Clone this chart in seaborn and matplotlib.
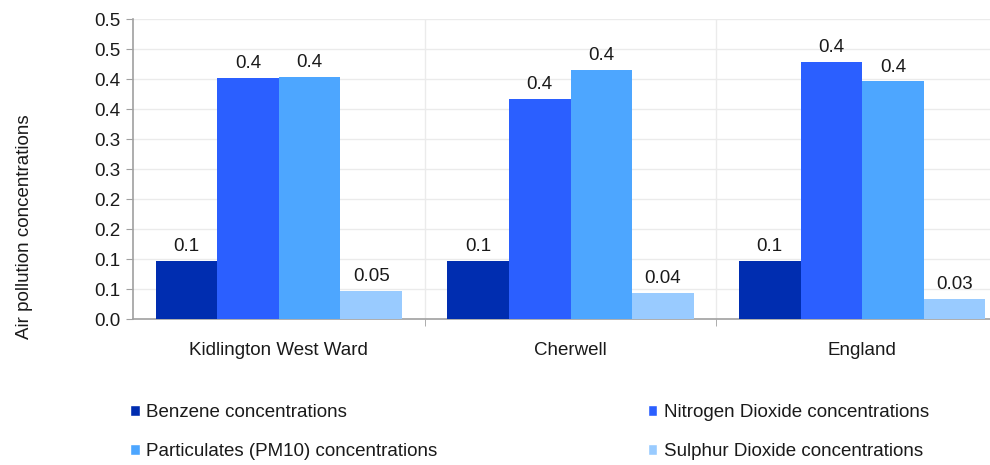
import matplotlib
matplotlib.use('Agg')

import matplotlib.pyplot as plt
import seaborn as sns
import pandas as pd
from matplotlib.patches import Patch

# data
areas = ['Kidlington West Ward', 'Cherwell', 'England']
pollutants = ['Benzene concentrations', 'Nitrogen Dioxide concentrations',
              'Particulates (PM10) concentrations', 'Sulphur Dioxide concentrations']
benzene = [0.097, 0.097, 0.097]
nitrogen_dioxide = [0.402, 0.367, 0.429]
pm10 = [0.404, 0.415, 0.396]
sulphur_dioxide = [0.047, 0.044, 0.034]
bar_labels = [['0.1', '0.1', '0.1'], ['0.4', '0.4', '0.4'],
              ['0.4', '0.4', '0.4'], ['0.05', '0.04', '0.03']]
y_ticks = [0.0, 0.05, 0.1, 0.15, 0.2, 0.25, 0.3, 0.35, 0.4, 0.45, 0.5]
y_tick_labels = ['0.0', '0.1', '0.1', '0.2', '0.2', '0.3', '0.3', '0.4', '0.4', '0.5', '0.5']
colors = ['#002db0', '#2b5fff', '#4da6ff', '#99cbff']

FS = 13.5
TXT = '#1a1a1a'


def main():
    sns.set_style('white')
    plt.rcParams['font.family'] = ['Liberation Sans', 'DejaVu Sans']

    series = [benzene, nitrogen_dioxide, pm10, sulphur_dioxide]
    rows = []
    for name, vals in zip(pollutants, series):
        for area, v in zip(areas, vals):
            rows.append({'area': area, 'pollutant': name, 'value': v})
    df = pd.DataFrame(rows)

    fig = plt.figure(figsize=(9.9, 4.65), dpi=100)
    ax = fig.add_axes([133 / 990, 146 / 465, 875 / 990, 300 / 465])

    sns.barplot(data=df, x='area', y='value', hue='pollutant', order=areas,
                hue_order=pollutants, palette=colors, width=0.845, saturation=1,
                errorbar=None, legend=False, ax=ax, zorder=3, linewidth=0)

    for cont, labs in zip(ax.containers, bar_labels):
        ax.bar_label(cont, labels=labs, padding=4, fontsize=FS, color=TXT)

    ax.set_ylim(0, 0.5)
    ax.set_xlim(-0.5, 2.5)
    ax.set_yticks(y_ticks)
    ax.set_yticklabels(y_tick_labels)
    ax.set_xticks([0.5, 1.5], minor=True)
    ax.grid(axis='y', color='#ebebeb', linewidth=1, zorder=0)
    ax.grid(axis='x', which='minor', color='#ebebeb', linewidth=1, zorder=0)
    ax.set_axisbelow(True)

    sns.despine(ax=ax, top=True, right=True)
    for s in ['left', 'bottom']:
        ax.spines[s].set_color('#a0a0a0')
        ax.spines[s].set_linewidth(1.2)

    ax.tick_params(axis='y', left=True, length=5, color='#a0a0a0', labelsize=FS,
                   labelcolor=TXT, pad=4)
    ax.tick_params(axis='x', which='major', bottom=False, labelsize=FS,
                   labelcolor=TXT, pad=13)
    ax.tick_params(axis='x', which='minor', bottom=True, length=5, color='#a0a0a0')

    ax.set_xlabel('')
    ax.set_ylabel('Air pollution concentrations', fontsize=FS, color=TXT)
    ax.yaxis.set_label_coords(-100 / 875, 92 / 300)

    # legend: column-major order so Benzene/PM10 sit in the left column
    order = [0, 2, 1, 3]
    handles = [Patch(facecolor=colors[i], label=pollutants[i]) for i in order]
    fig.legend(handles=handles, ncol=2, loc='upper left',
               bbox_to_anchor=(130 / 990, 1 - 404 / 465), frameon=False,
               fontsize=FS, handlelength=0.52, handleheight=0.52,
               handletextpad=0.35, labelspacing=1.19, columnspacing=11.2,
               borderpad=0, borderaxespad=0, labelcolor=TXT)

    fig.savefig('out.png', dpi=100)


if __name__ == "__main__":
    main()
